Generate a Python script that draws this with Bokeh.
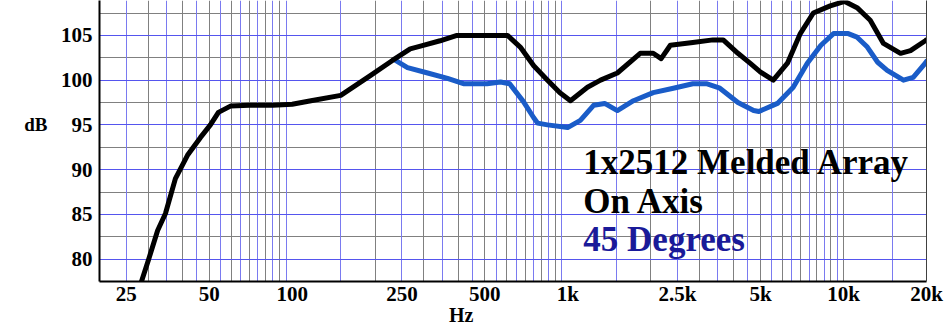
from bokeh.plotting import figure
from bokeh.models import FixedTicker, Grid, LinearAxis, LogAxis, Range1d, ColumnDataSource
from bokeh.core.properties import value
from bokeh.embed import file_html
from bokeh.resources import INLINE

# On-axis response (black)
on_freq = [28.4, 30.1, 32.5, 34.7, 37.7, 41.7, 46.5, 50.5, 54, 59.7, 70, 85, 100, 117, 150,
           192, 231, 268, 292, 344, 396, 450, 520, 604, 672, 752, 844, 936, 1022, 1178, 1314,
           1512, 1830, 2040, 2180, 2354, 2840, 3360, 3660, 4140, 4580, 5000, 5560, 6260, 6970,
           7770, 8950, 10100, 11200, 12500, 13960, 16100, 17500, 19800, 20000]
on_db = [77.5, 79.9, 83.2, 85.1, 89.0, 91.6, 93.6, 95.0, 96.4, 97.1, 97.2, 97.2, 97.3, 97.7, 98.3,
         100.5, 102.2, 103.5, 103.8, 104.4, 105.0, 105.0, 105.0, 105.0, 103.7, 101.6, 100.0, 98.6, 97.7, 99.2, 100.0,
         100.8, 103.0, 103.0, 102.4, 103.9, 104.2, 104.5, 104.5, 103.0, 101.9, 100.9, 100.0, 101.9, 105.2,
         107.5, 108.3, 108.8, 108.1, 106.7, 104.1, 103.0, 103.3, 104.4, 104.5]

# 45 degrees response (blue)
off_freq = [237, 262, 310, 366, 418, 509, 570, 615, 690, 752, 777, 844, 998, 1110, 1242, 1360,
            1512, 1730, 2040, 2414, 2840, 3180, 3560, 4140, 4720, 4930, 5760, 6570, 7390, 8280,
            9200, 10400, 11200, 12200, 13300, 14400, 16500, 17900, 19800, 20000]
off_db = [102.2, 101.4, 100.8, 100.2, 99.6, 99.6, 99.8, 99.6, 97.6, 95.8, 95.2, 95.0, 94.7, 95.5, 97.2, 97.4,
          96.6, 97.7, 98.6, 99.1, 99.6, 99.6, 99.1, 97.5, 96.6, 96.5, 97.4, 99.2, 101.9, 103.9,
          105.2, 105.2, 104.8, 103.7, 102.0, 101.1, 100.0, 100.3, 101.9, 102.1]

x_ticks = [25, 50, 100, 250, 500, 1000, 2500, 5000, 10000, 20000]
x_tick_labels = ["25", "50", "100", "250", "500", "1k", "2.5k", "5k", "10k", "20k"]
y_ticks = [80, 85, 90, 95, 100, 105]

x_grid_gray = [m * d for d in (10, 100, 1000) for m in range(2, 10)] + [10000, 20000]
x_grid_blue = [(m + 0.5) * d for d in (10, 100, 1000) for m in range(1, 10) if (m + 0.5) * d > 20] + [15000]
y_grid_blue = [80, 85, 90, 95, 100, 105]
y_grid_gray = [77.5, 82.5, 87.5, 92.5, 97.5, 102.5, 107.5]

legend_text = ["1x2512 Melded Array", "On Axis", "45 Degrees"]
legend_color = ["#000000", "#000000", "#1a1a99"]
legend_x = [1138, 1138, 1138]
legend_y = [90.85, 86.4, 82.15]

x_title = "Hz"
x_title_pos = 410
y_title = "dB"
y_title_pos = 95

FONT = "Liberation Serif"

p = figure(width=944, height=328, x_axis_type="log", output_backend="svg", toolbar_location=None,
           x_range=Range1d(20, 20000), y_range=Range1d(77.5, 108.9),
           min_border_left=99, min_border_right=18, min_border_top=0, min_border_bottom=47)
p.outline_line_color = None
p.background_fill_color = "white"

# grids
p.xgrid.ticker = FixedTicker(ticks=x_grid_gray)
p.xgrid.grid_line_color = "#808080"
p.xgrid.grid_line_width = 1
p.ygrid.ticker = FixedTicker(ticks=y_grid_gray)
p.ygrid.grid_line_color = "#808080"
p.ygrid.grid_line_width = 1
p.add_layout(Grid(dimension=0, ticker=FixedTicker(ticks=x_grid_blue), grid_line_color="#7a7af0", grid_line_width=1))
p.add_layout(Grid(dimension=1, ticker=FixedTicker(ticks=y_grid_blue), grid_line_color="#5555ee", grid_line_width=1))

# curves
p.line(off_freq, off_db, line_color="#1a5cc8", line_width=5, line_join="round", line_cap="round")
p.line(on_freq, on_db, line_color="#000000", line_width=5, line_join="round", line_cap="round")

src = ColumnDataSource(dict(x=legend_x, y=legend_y, t=legend_text, c=legend_color))
p.text(x="x", y="y", text="t", text_color="c", source=src, text_font=value(FONT),
       text_font_style="bold", text_font_size="35px", text_baseline="alphabetic", text_align="left")

# axes
xa = p.xaxis[0]
xa.ticker = FixedTicker(ticks=x_ticks)
xa.major_label_overrides = {t: l for t, l in zip(x_ticks, x_tick_labels)}
ya = p.yaxis[0]
ya.ticker = FixedTicker(ticks=y_ticks)
for ax in (xa, ya):
    ax.axis_line_color = "#000000"
    ax.axis_line_width = 2
    ax.major_tick_out = 0
    ax.major_tick_in = 0
    ax.minor_tick_out = 0
    ax.minor_tick_in = 0
    ax.major_label_text_font = FONT
    ax.major_label_text_font_style = "bold"
    ax.major_label_text_font_size = "21px"
    ax.major_label_text_color = "#000000"
xa.major_label_standoff = 0
ya.major_label_standoff = 7

# axis titles as outer axes (positioned like the reference)
hz_axis = LogAxis(ticker=FixedTicker(ticks=[x_title_pos]), major_label_overrides={x_title_pos: x_title},
                  axis_line_color=None, major_tick_out=0, major_tick_in=0, minor_tick_out=0, minor_tick_in=0,
                  major_label_standoff=-5, major_label_text_font=FONT, major_label_text_font_style="bold",
                  major_label_text_font_size="20px", major_label_text_color="#000000")
p.add_layout(hz_axis, "below")
db_axis = LinearAxis(ticker=FixedTicker(ticks=[y_title_pos]), major_label_overrides={y_title_pos: y_title},
                     axis_line_color=None, major_tick_out=0, major_tick_in=0, minor_tick_out=0, minor_tick_in=0,
                     major_label_standoff=10, major_label_text_font=FONT, major_label_text_font_style="bold",
                     major_label_text_font_size="19px", major_label_text_color="#000000")
p.add_layout(db_axis, "left")

ra = LinearAxis(ticker=FixedTicker(ticks=[]), major_tick_out=0, minor_tick_out=0,
                major_label_text_font_size="0px", axis_line_color="#404040", axis_line_width=1)
p.add_layout(ra, "right")

open("out.html", "w").write(file_html(p, INLINE))
